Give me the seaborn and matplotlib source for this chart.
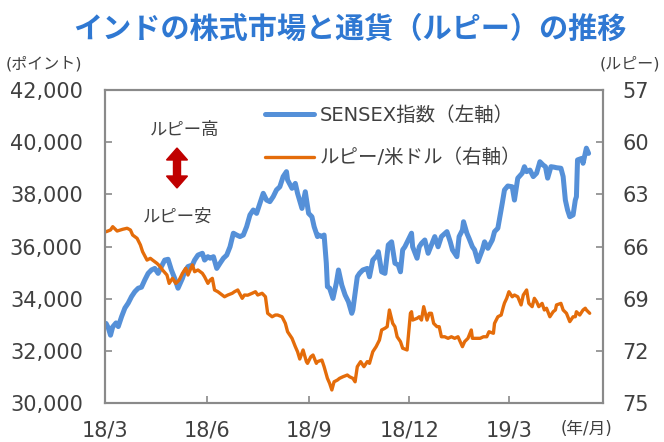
import matplotlib
matplotlib.use('Agg')
import matplotlib.pyplot as plt
import matplotlib.ticker as mticker
from matplotlib.lines import Line2D
from matplotlib.patches import FancyArrow
import pandas as pd
import seaborn as sns

# days counted from 2018-03-01
start = pd.Timestamp('2018-03-01')

sensex_day = [1, 3, 5, 7, 10, 12, 15, 18, 21, 24,
              27, 30, 33, 36, 39, 42, 45, 48, 51, 54,
              57, 60, 63, 66, 70, 72, 75, 79, 81, 84,
              88, 90, 93, 95, 98, 101, 104, 107, 110, 113,
              116, 119, 122, 125, 128, 131, 134, 137, 140, 143,
              146, 149, 152, 155, 158, 161, 164, 165, 169, 172,
              174, 178, 181, 184, 187, 189, 192, 193, 196, 198,
              200, 201, 203, 206, 209, 211, 214, 217, 220, 223,
              224, 228, 230, 233, 237, 239, 242, 246, 247, 250,
              253, 256, 259, 262, 265, 267, 269, 271, 274, 277,
              278, 282, 284, 286, 289, 292, 295, 298, 301, 304,
              309, 312, 314, 318, 320, 323, 324, 327, 329, 332,
              334, 337, 341, 343, 346, 350, 352, 355, 359, 361,
              364, 368, 370, 373, 377, 379, 381, 384, 387, 390,
              393, 396, 398, 400, 403, 406, 408, 412, 414, 416,
              418, 420, 423, 425, 426, 427, 431, 432, 434, 435,
              437]
sensex = [33050, 32880, 32600, 32920, 33070, 32930, 33310, 33640, 33830, 34080,
          34270, 34400, 34440, 34720, 34970, 35100, 35160, 34970, 35230, 35480,
          35510, 35100, 34780, 34400, 34780, 35030, 35230, 35290, 35480, 35670,
          35740, 35480, 35610, 35550, 35610, 35160, 35360, 35550, 35670, 35990,
          36510, 36440, 36380, 36440, 36760, 37210, 37400, 37270, 37660, 38040,
          37780, 37720, 37910, 38170, 38290, 38680, 38870, 38550, 38230, 38420,
          38040, 37460, 38100, 37270, 37140, 36760, 36380, 36440, 36380, 36440,
          35360, 34460, 34400, 34010, 34590, 35100, 34520, 34140, 33880, 33440,
          33570, 34840, 34970, 35100, 35160, 34840, 35480, 35670, 35800, 35030,
          34970, 36060, 36180, 35360, 35290, 35030, 35870, 35990, 36250, 36510,
          35990, 35550, 35990, 36120, 36250, 35740, 36060, 36380, 35990, 36380,
          36570, 36180, 35870, 35610, 36380, 36630, 36950, 36510, 36310, 35990,
          35870, 35420, 35870, 36180, 35930, 36250, 36570, 36700, 37660, 38170,
          38320, 38290, 37780, 38620, 38810, 39060, 38870, 38930, 38680, 38810,
          39250, 39120, 39060, 38620, 39060, 39040, 39020, 39000, 38680, 37780,
          37400, 37140, 37210, 37780, 37910, 39320, 39380, 39190, 39570, 39770,
          39570]

rupee_day = [1, 5, 7, 11, 14, 16, 20, 23, 25, 29,
             32, 34, 38, 41, 43, 47, 50, 52, 56, 58,
             61, 64, 67, 70, 73, 75, 79, 81, 84, 88,
             90, 93, 95, 97, 99, 102, 106, 108, 111, 115,
             117, 120, 124, 126, 129, 133, 136, 138, 142, 145,
             147, 151, 154, 156, 160, 163, 165, 169, 172, 174,
             176, 179, 182, 183, 186, 188, 191, 192, 196, 198,
             201, 203, 205, 207, 210, 212, 215, 219, 221, 224,
             226, 228, 231, 234, 237, 239, 242, 245, 248, 250,
             253, 255, 257, 260, 262, 264, 267, 269, 273, 276,
             277, 278, 282, 284, 286, 288, 291, 293, 295, 297,
             300, 302, 304, 307, 310, 313, 316, 319, 323, 325,
             328, 331, 332, 336, 339, 342, 345, 347, 351, 352,
             355, 358, 360, 361, 363, 365, 368, 370, 373, 376,
             378, 381, 383, 386, 388, 390, 392, 395, 397, 399,
             402, 405, 407, 408, 412, 414, 417, 420, 423, 425,
             426, 429, 432, 434, 435, 438]
rupee = [65.15, 65.05, 64.86, 65.11, 65.05, 65.01, 64.95, 65.05, 65.34, 65.53,
         65.91, 66.30, 66.78, 66.68, 66.78, 66.97, 67.16, 67.35, 67.64, 68.12,
         67.83, 68.12, 67.93, 67.54, 67.25, 67.64, 67.06, 67.45, 67.35, 67.54,
         67.74, 68.12, 67.93, 67.83, 68.50, 68.60, 68.79, 68.89, 68.79, 68.69,
         68.60, 68.50, 68.98, 68.79, 68.80, 68.69, 68.60, 68.79, 68.69, 68.89,
         69.84, 70.04, 69.94, 69.94, 70.04, 70.42, 70.90, 71.28, 71.76, 72.05,
         72.47, 71.95, 72.62, 72.72, 72.34, 72.24, 72.72, 72.62, 72.53, 72.91,
         73.58, 73.87, 74.25, 73.78, 73.68, 73.58, 73.49, 73.39, 73.49, 73.58,
         73.78, 72.91, 72.62, 72.91, 72.62, 72.72, 72.05, 71.76, 71.38, 70.80,
         70.70, 70.61, 69.65, 70.42, 70.61, 71.19, 71.47, 71.85, 71.95, 69.84,
         69.75, 70.23, 70.13, 70.04, 70.23, 69.46, 70.23, 69.84, 69.84, 70.42,
         70.61, 70.61, 71.19, 71.19, 71.28, 71.19, 71.28, 71.19, 71.76, 71.47,
         71.28, 70.80, 71.28, 71.28, 71.28, 71.19, 71.19, 70.90, 70.99, 70.42,
         70.04, 69.94, 69.46, 69.25, 68.98, 68.60, 68.89, 68.79, 68.89, 69.36,
         68.79, 68.50, 69.27, 69.46, 68.98, 69.17, 69.46, 69.27, 69.65, 69.55,
         70.04, 69.75, 69.65, 69.36, 69.27, 69.65, 69.84, 70.32, 70.04, 70.04,
         69.75, 69.94, 69.65, 69.55, 69.65, 69.84]

x_ticks = ['2018-03-01', '2018-06-01', '2018-09-01', '2018-12-01', '2019-03-01']
x_labels = ['18/3', '18/6', '18/9', '18/12', '19/3']
left_ticks = [30000, 32000, 34000, 36000, 38000, 40000, 42000]
right_ticks = [57, 60, 63, 66, 69, 72, 75]
series_names = ['SENSEX指数（左軸）', 'ルピー/米ドル（右軸）']

df_s = pd.DataFrame({'date': start + pd.to_timedelta(sensex_day, unit='D'), 'value': sensex})
df_r = pd.DataFrame({'date': start + pd.to_timedelta(rupee_day, unit='D'), 'value': rupee})

blue = '#5590d8'
orange = '#e46c0a'
gray = '#8a8a8a'
txt = '#404040'

sns.set_style('ticks')
plt.rcParams['font.family'] = ['DejaVu Sans', 'Noto Sans CJK JP']

fig = plt.figure(figsize=(6.64, 4.42), dpi=100)
ax = fig.add_axes([0.1581, 0.0882, 0.75, 0.7082])
ax2 = ax.twinx()

sns.lineplot(data=df_s, x='date', y='value', ax=ax, color=blue, lw=3.6, legend=False)
sns.lineplot(data=df_r, x='date', y='value', ax=ax2, color=orange, lw=2.4, legend=False)

ax.set_xlim(start, start + pd.Timedelta(days=450))
ax.set_ylim(30000, 42000)
ax2.set_ylim(75, 57)

ax.set_xticks(pd.to_datetime(x_ticks))
ax.set_xticklabels(x_labels)
ax.set_yticks(left_ticks)
ax.yaxis.set_major_formatter(mticker.StrMethodFormatter('{x:,.0f}'))
ax2.set_yticks(right_ticks)
for a in (ax, ax2):
    a.set_xlabel('')
    a.set_ylabel('')
    for sp in a.spines.values():
        sp.set_color(gray)
        sp.set_linewidth(1.5)

ax.tick_params(axis='x', direction='in', length=5, width=1.2, color=gray,
               labelsize=15, labelcolor=txt, pad=12.5)
ax.tick_params(axis='y', direction='in', length=5, width=1.2, color=gray,
               labelsize=15, labelcolor=txt, pad=16)
ax2.tick_params(axis='y', direction='in', length=5, width=1.2, color=gray,
                labelsize=15, labelcolor=txt, pad=14)

handles = [Line2D([], [], color=blue, lw=3.6), Line2D([], [], color=orange, lw=2.4)]
ax2.legend(handles, series_names, loc='upper left', bbox_to_anchor=(265 / 664, 1 - 106 / 442),
           bbox_transform=fig.transFigure, frameon=False, fontsize=14, labelcolor=txt,
           handlelength=2.5, handletextpad=0.3, labelspacing=1.2, borderpad=0, borderaxespad=0)

# rupee strength note
fig.text(185 / 664, 1 - 130 / 442, 'ルピー高', ha='center', va='center', fontsize=12.5, color=txt)
fig.text(178 / 664, 1 - 217 / 442, 'ルピー安', ha='center', va='center', fontsize=12.5, color=txt)
arrow_kw = dict(width=0.07, head_width=0.21, head_length=0.12, length_includes_head=True,
                color='#c00000', transform=fig.dpi_scale_trans)
fig.add_artist(FancyArrow(1.77, 4.42 - 1.68, 0, 0.20, **arrow_kw))
fig.add_artist(FancyArrow(1.77, 4.42 - 1.68, 0, -0.20, **arrow_kw))

fig.text(350 / 664, 1 - 29 / 442, 'インドの株式市場と通貨（ルピー）の推移', ha='center', va='center',
         fontsize=21, fontweight='bold', color='#2f78d2', family='Noto Sans CJK JP')
fig.text(6 / 664, 1 - 64 / 442, '(ポイント)', ha='left', va='center', fontsize=11.5, color=txt)
fig.text(660 / 664, 1 - 64 / 442, '(ルピー)', ha='right', va='center', fontsize=11.5, color=txt)
fig.text(612 / 664, 1 - 429 / 442, '(年/月)', ha='right', va='center', fontsize=12, color=txt)

fig.savefig('out.png', dpi=100)
